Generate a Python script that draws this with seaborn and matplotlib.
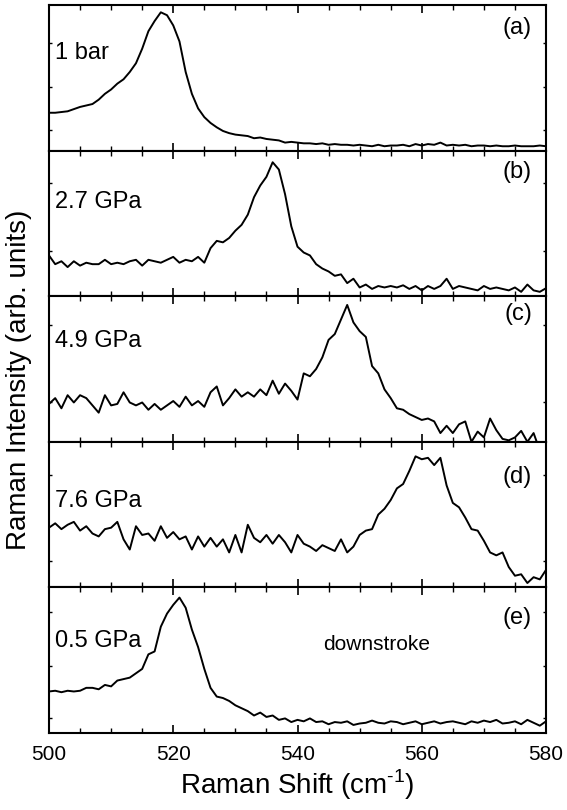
import numpy as np
import matplotlib.pyplot as plt
import seaborn as sns
from matplotlib.ticker import MultipleLocator

sns.set_theme(style="ticks")
plt.rcParams['font.family'] = ['Liberation Sans', 'DejaVu Sans']
plt.rcParams['text.color'] = 'black'
plt.rcParams['xtick.color'] = 'black'
plt.rcParams['ytick.color'] = 'black'
plt.rcParams['mathtext.fontset'] = 'custom'
plt.rcParams['mathtext.rm'] = 'Liberation Sans'

# Raman shift grid (cm^-1), one point per wavenumber
shift = list(range(500, 581))

# intensities, arbitrary units (0 = panel bottom, 1 = panel top)
int_1bar = [0.26, 0.26, 0.265, 0.27, 0.285, 0.30, 0.31, 0.32, 0.35, 0.39,
            0.42, 0.46, 0.49, 0.54, 0.60, 0.70, 0.82, 0.89, 0.95, 0.93,
            0.86, 0.75, 0.54, 0.39, 0.29, 0.23, 0.19, 0.16, 0.135, 0.12,
            0.11, 0.105, 0.10, 0.085, 0.09, 0.08, 0.075, 0.07, 0.055, 0.06,
            0.055, 0.05, 0.05, 0.045, 0.05, 0.04, 0.045, 0.04, 0.04, 0.035,
            0.04, 0.035, 0.03, 0.04, 0.03, 0.035, 0.035, 0.04, 0.03, 0.045,
            0.035, 0.045, 0.04, 0.055, 0.035, 0.04, 0.035, 0.04, 0.03, 0.035,
            0.035, 0.03, 0.035, 0.03, 0.03, 0.035, 0.03, 0.03, 0.03, 0.035,
            0.03]
int_27 = [0.28, 0.22, 0.24, 0.20, 0.24, 0.21, 0.23, 0.22, 0.22, 0.25,
          0.22, 0.23, 0.22, 0.24, 0.25, 0.21, 0.25, 0.24, 0.23, 0.25,
          0.27, 0.23, 0.25, 0.24, 0.27, 0.23, 0.33, 0.38, 0.37, 0.40,
          0.45, 0.49, 0.56, 0.68, 0.76, 0.82, 0.92, 0.87, 0.70, 0.48,
          0.34, 0.30, 0.28, 0.22, 0.19, 0.17, 0.14, 0.15, 0.09, 0.12,
          0.06, 0.08, 0.05, 0.07, 0.06, 0.07, 0.06, 0.075, 0.05, 0.07,
          0.04, 0.07, 0.05, 0.07, 0.12, 0.05, 0.07, 0.06, 0.05, 0.04,
          0.07, 0.05, 0.06, 0.05, 0.04, 0.06, 0.03, 0.08, 0.04, 0.03,
          0.055]
int_49 = [0.26, 0.30, 0.23, 0.32, 0.27, 0.32, 0.30, 0.25, 0.20, 0.32,
          0.25, 0.26, 0.34, 0.27, 0.25, 0.27, 0.22, 0.26, 0.22, 0.25,
          0.28, 0.24, 0.31, 0.25, 0.28, 0.24, 0.34, 0.38, 0.25, 0.30,
          0.36, 0.31, 0.34, 0.31, 0.36, 0.32, 0.42, 0.33, 0.40, 0.35,
          0.29, 0.47, 0.45, 0.50, 0.58, 0.70, 0.74, 0.84, 0.94, 0.82,
          0.76, 0.72, 0.52, 0.47, 0.36, 0.30, 0.23, 0.22, 0.19, 0.17,
          0.15, 0.16, 0.14, 0.06, 0.11, 0.06, 0.12, 0.14, 0.00, 0.07,
          0.03, 0.16, 0.08, 0.02, 0.01, 0.03, 0.075, 0.00, 0.06, -0.06,
          -0.05]
int_76 = [0.41, 0.44, 0.40, 0.43, 0.45, 0.39, 0.42, 0.37, 0.35, 0.40,
          0.41, 0.45, 0.33, 0.26, 0.42, 0.36, 0.37, 0.32, 0.42, 0.34,
          0.38, 0.33, 0.35, 0.26, 0.35, 0.28, 0.34, 0.28, 0.33, 0.24,
          0.36, 0.24, 0.43, 0.34, 0.31, 0.36, 0.30, 0.36, 0.31, 0.24,
          0.36, 0.30, 0.28, 0.25, 0.29, 0.27, 0.25, 0.33, 0.24, 0.28,
          0.36, 0.39, 0.40, 0.50, 0.54, 0.60, 0.68, 0.71, 0.80, 0.90,
          0.88, 0.89, 0.84, 0.89, 0.70, 0.58, 0.55, 0.48, 0.40, 0.39,
          0.32, 0.24, 0.22, 0.24, 0.14, 0.08, 0.09, 0.03, 0.07, 0.055,
          0.12]
int_05 = [0.285, 0.29, 0.28, 0.29, 0.285, 0.29, 0.31, 0.31, 0.30, 0.33,
          0.32, 0.36, 0.37, 0.38, 0.41, 0.44, 0.54, 0.56, 0.73, 0.82,
          0.88, 0.93, 0.86, 0.71, 0.59, 0.44, 0.31, 0.25, 0.24, 0.22,
          0.19, 0.17, 0.15, 0.12, 0.14, 0.11, 0.12, 0.09, 0.10, 0.075,
          0.09, 0.08, 0.10, 0.075, 0.08, 0.06, 0.075, 0.07, 0.08, 0.055,
          0.065, 0.07, 0.085, 0.07, 0.065, 0.08, 0.075, 0.06, 0.07, 0.08,
          0.06, 0.07, 0.08, 0.065, 0.075, 0.08, 0.07, 0.06, 0.08, 0.07,
          0.085, 0.075, 0.09, 0.065, 0.07, 0.08, 0.06, 0.09, 0.07, 0.05,
          0.08]

spectra = [int_1bar, int_27, int_49, int_76, int_05]
pressures = ["1 bar", "2.7 GPa", "4.9 GPa", "7.6 GPa", "0.5 GPa"]
letters = ["(a)", "(b)", "(c)", "(d)", "(e)"]
ytick_pos = [[0.14, 0.44, 0.74], [0.31, 0.78], [0.27, 0.80],
             [0.18, 0.77], [0.10, 0.46, 0.83]]
label_y = [0.67, 0.65, 0.69, 0.59, 0.63]
letter_y = [0.84, 0.85, 0.88, 0.76, 0.79]

fig, axes = plt.subplots(5, 1, figsize=(5.67, 8.1), dpi=100, sharex=True)
fig.subplots_adjust(left=0.0864, right=0.963, top=0.9938, bottom=0.0951, hspace=0)

for i, ax in enumerate(axes):
    sns.lineplot(x=shift, y=spectra[i], ax=ax, color='black', linewidth=1.4)
    ax.set_xlim(500, 580)
    ax.set_ylim(0, 1)
    ax.set_yticks(ytick_pos[i])
    ax.set_yticklabels([])
    ax.xaxis.set_major_locator(MultipleLocator(20))
    ax.xaxis.set_minor_locator(MultipleLocator(5))
    ax.tick_params(axis='x', which='major', direction='in', length=6, width=1.2,
                   top=True, bottom=True, labelsize=15, pad=9)
    ax.tick_params(axis='x', which='minor', direction='in', length=3.5, width=1.0,
                   top=True, bottom=True)
    ax.tick_params(axis='y', direction='in', length=2.5, width=1.0,
                   left=True, right=True)
    for sp in ax.spines.values():
        sp.set_linewidth(1.5)
        sp.set_color('black')
    ax.set_xlabel("")
    ax.set_ylabel("")
    ax.text(0.012, label_y[i], pressures[i], transform=ax.transAxes,
            fontsize=17, va='center', ha='left')
    ax.text(0.972, letter_y[i], letters[i], transform=ax.transAxes,
            fontsize=17, va='center', ha='right')

axes[4].text(0.66, 0.61, "downstroke", transform=axes[4].transAxes,
             fontsize=15, va='center', ha='center')

fig.text(0.525, 0.031, "Raman Shift (cm$^{\\text{-1}}$)", ha='center', va='center',
         fontsize=20)
fig.text(0.033, 0.531, "Raman Intensity (arb. units)", rotation=90,
         ha='center', va='center', fontsize=20)

fig.savefig("out.png", dpi=100)
